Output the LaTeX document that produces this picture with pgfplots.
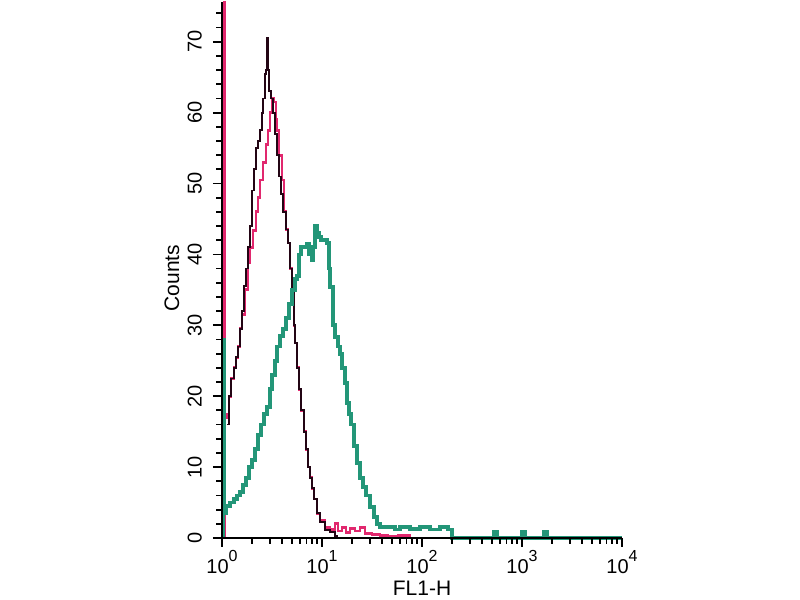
\documentclass[border=0pt]{standalone}
\usepackage{pgfplots}
\pgfplotsset{compat=1.18}
\usepackage{pgfplotstable}
\usepackage{fontspec}
\setmainfont{Liberation Sans}
\definecolor{cgreen}{RGB}{35,150,120}
\definecolor{cmag}{RGB}{225,40,110}
\definecolor{cblk}{RGB}{35,5,20}
\newcommand{\tl}[1]{10\raisebox{6pt}{\fontsize{8}{9}\selectfont #1}}
\pgfplotstableread{
lx c
0.05 16
0.07 20
0.09 22.5
0.12 24
0.14 25.5
0.16 27
0.18 29.5
0.20 32
0.22 35.5
0.24 38
0.26 41
0.28 44
0.30 49
0.32 52
0.34 55
0.36 56
0.38 57.5
0.40 60
0.41 62
0.43 65.5
0.44 66
0.45 70.5
0.46 66
0.47 63
0.49 62
0.51 60
0.53 57
0.55 54
0.57 51
0.59 48.5
0.61 46
0.64 43.5
0.66 41.6
0.68 38
0.70 35
0.72 30
0.73 27.5
0.75 24
0.77 21
0.79 18
0.82 15
0.84 12.5
0.86 10
0.88 8.5
0.90 7
0.92 5.5
0.95 3.5
0.98 2.3
1.03 1.1
1.08 0.8
1.13 0.3
1.15 0
4 0
}\blktab
\pgfplotstableread{
lx c
0.025 0
0.025 75.6
0.03 17
0.05 17.5
0.07 20
0.09 22.5
0.12 24
0.14 25.5
0.16 27
0.18 29.5
0.20 31.5
0.23 35
0.26 38.8
0.28 41
0.31 43.4
0.34 46
0.36 48
0.38 50.5
0.41 53
0.44 55.5
0.46 57.5
0.48 60
0.50 62
0.52 61.5
0.54 59
0.55 57.5
0.57 54
0.60 50.5
0.62 46
0.64 43.5
0.66 41.6
0.68 38
0.70 35
0.72 30
0.73 27.5
0.75 24
0.77 21
0.79 18
0.82 15
0.84 12.5
0.86 10
0.88 8.5
0.90 7
0.92 5.5
0.95 3.5
0.98 2.5
1.03 1.5
1.08 1.2
1.13 2
1.16 1
1.20 1.5
1.24 0.8
1.28 1.3
1.33 1
1.38 1.5
1.43 0.6
1.50 0.5
1.58 0.3
1.66 0.2
1.76 0.4
1.88 0
4 0
}\magtab
\pgfplotstableread{
lx c
0.012 0
0.012 28
0.025 3.5
0.04 4.5
0.06 4.5
0.08 5
0.10 5
0.12 5.5
0.15 6
0.18 6.5
0.21 7.5
0.24 8.5
0.27 10
0.30 11
0.33 12.5
0.36 14.5
0.39 16
0.42 17.5
0.45 18.5
0.48 21
0.50 23
0.53 25
0.55 27
0.58 28.5
0.61 29.5
0.64 31
0.67 33
0.70 35
0.73 36.5
0.75 37
0.77 40
0.79 41
0.82 41
0.85 41.5
0.87 40
0.89 41
0.90 39.2
0.91 41
0.93 44
0.95 43
0.97 42.5
0.99 42
1.02 42
1.05 41.6
1.07 38
1.08 35.4
1.11 30
1.13 28.3
1.16 27
1.18 26
1.20 24
1.23 21.9
1.25 19
1.27 17.5
1.29 16
1.32 13
1.35 10.6
1.38 8.5
1.41 7.2
1.44 6
1.48 4.4
1.52 3
1.55 2
1.58 1.5
1.68 1.5
1.73 1.2
1.78 1.5
1.88 1.3
1.98 1.5
2.08 1.2
2.18 1.5
2.26 1.2
2.30 0
2.70 0
2.72 0.8
2.75 0
2.98 0
3.00 0.8
3.03 0
3.20 0
3.22 0.8
3.25 0
4 0
}\grntab
\begin{document}
\begin{tikzpicture}
\path[use as bounding box] (0,0) rectangle (400pt,300pt);
\begin{axis}[
  at={(111pt,31pt)}, anchor=south west,
  scale only axis, width=200pt, height=268pt,
  xmin=0, xmax=4, ymin=0, ymax=75.6,
  clip=false,
  axis line style={draw=none},
  axis on top,
  xtick pos=bottom, ytick pos=left,
  tick align=outside,
  major tick length=4.5pt, minor tick length=2.8pt,
  every tick/.style={line width=0.9pt, black},
  xtick={0,1,2,3,4},
  xticklabels={\tl{0},\tl{1},\tl{2},\tl{3},\tl{4}},
  xticklabel shift=-2pt,
  minor xtick={0.301,0.477,0.602,0.699,0.778,0.845,0.903,0.954,
               1.301,1.477,1.602,1.699,1.778,1.845,1.903,1.954,
               2.301,2.477,2.602,2.699,2.778,2.845,2.903,2.954,
               3.301,3.477,3.602,3.699,3.778,3.845,3.903,3.954},
  ytick={0,10,20,30,40,50,60,70},
  minor ytick={2,4,6,8,12,14,16,18,22,24,26,28,32,34,36,38,42,44,46,48,52,54,56,58,62,64,66,68,72,74},
  yticklabel style={rotate=90, anchor=south},
  yticklabel shift=2pt,
  ticklabel style={font=\fontsize{10}{11}\selectfont},
  /pgf/number format/assume math mode=true,
  xlabel={FL1-H}, ylabel={Counts},
  label style={font=\fontsize{10.5}{12}\selectfont},
  xlabel style={at={(axis description cs:0.5,-0.093)}, anchor=center},
  ylabel style={at={(axis description cs:-0.125,0.485)}, anchor=center},
  extra description/.code={
    \draw[line width=1pt, black] (axis description cs:0,1) -- (axis description cs:0,0) -- (axis description cs:1,0);
  },
]
\addplot[const plot, cmag, line width=1.4pt] table[x=lx,y=c]{\magtab};
\addplot[const plot, cblk, line width=0.9pt] table[x=lx,y=c]{\blktab};
\addplot[const plot, cgreen, line width=1.9pt] table[x=lx,y=c]{\grntab};
\end{axis}
\end{tikzpicture}
\end{document}
